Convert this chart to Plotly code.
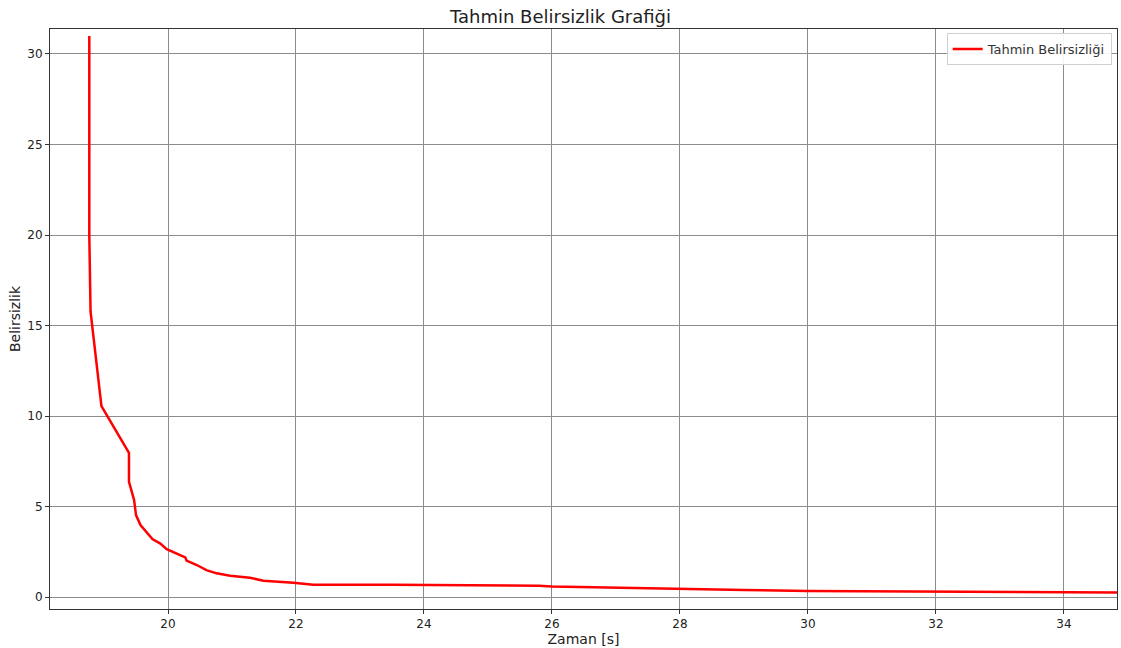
import plotly.graph_objects as go

zaman = [18.77, 18.77, 18.79, 18.96, 19.39, 19.39, 19.47, 19.50, 19.57, 19.76, 19.875, 19.98,
         20.27, 20.29, 20.45, 20.60, 20.76, 20.97, 21.28, 21.49, 21.96, 22.27, 23.5, 24.67,
         25.0, 25.8, 26.0, 27.22, 28.0, 29.0, 30.0, 31.0, 32.0, 33.0, 34.0, 34.83]
belirsizlik = [31.0, 20.0, 15.76, 10.55, 7.97, 6.37, 5.36, 4.53, 3.98, 3.19, 2.97, 2.64,
               2.19, 2.01, 1.77, 1.49, 1.31, 1.18, 1.07, 0.90, 0.79, 0.68, 0.68, 0.67,
               0.63, 0.62, 0.58, 0.49, 0.44, 0.39, 0.33, 0.31, 0.30, 0.28, 0.26, 0.25]

x_ticks = [20, 22, 24, 26, 28, 30, 32, 34]
y_ticks = [0, 5, 10, 15, 20, 25, 30]

fig = go.Figure()
fig.add_trace(go.Scatter(x=zaman, y=belirsizlik, mode="lines", name="Tahmin Belirsizliği",
                         line=dict(color="#ff0000", width=2.5)))

axis_common = dict(showgrid=True, gridcolor="#8c8c8c", gridwidth=1, showline=True,
                   linecolor="#333333", linewidth=1, mirror=True, ticks="outside",
                   ticklen=4, tickcolor="#333333", zeroline=False,
                   tickfont=dict(family="DejaVu Sans", size=12, color="#222222"))

fig.update_layout(
    width=1121, height=648,
    margin=dict(l=50, r=4, t=29, b=39),
    paper_bgcolor="white", plot_bgcolor="white",
    title=dict(text="Tahmin Belirsizlik Grafiği", x=0.5, xanchor="center", y=0.975, yanchor="middle",
               font=dict(family="DejaVu Sans", size=18, color="#222222")),
    xaxis=dict(range=[18.156, 34.83], tickvals=x_ticks,
               title=dict(text="Zaman [s]", standoff=1, font=dict(family="DejaVu Sans", size=14, color="#222222")),
               **axis_common),
    yaxis=dict(range=[-0.66, 31.38], tickvals=y_ticks,
               title=dict(text="Belirsizlik", standoff=3, font=dict(family="DejaVu Sans", size=14, color="#222222")),
               **axis_common),
    legend=dict(x=0.995, y=0.993, xanchor="right", yanchor="top", bgcolor="rgba(255,255,255,0.9)",
                bordercolor="#d0d0d0", borderwidth=1, itemwidth=30,
                font=dict(family="DejaVu Sans", size=13, color="#333333")),
    showlegend=True,
)

fig.write_html("out.html")
